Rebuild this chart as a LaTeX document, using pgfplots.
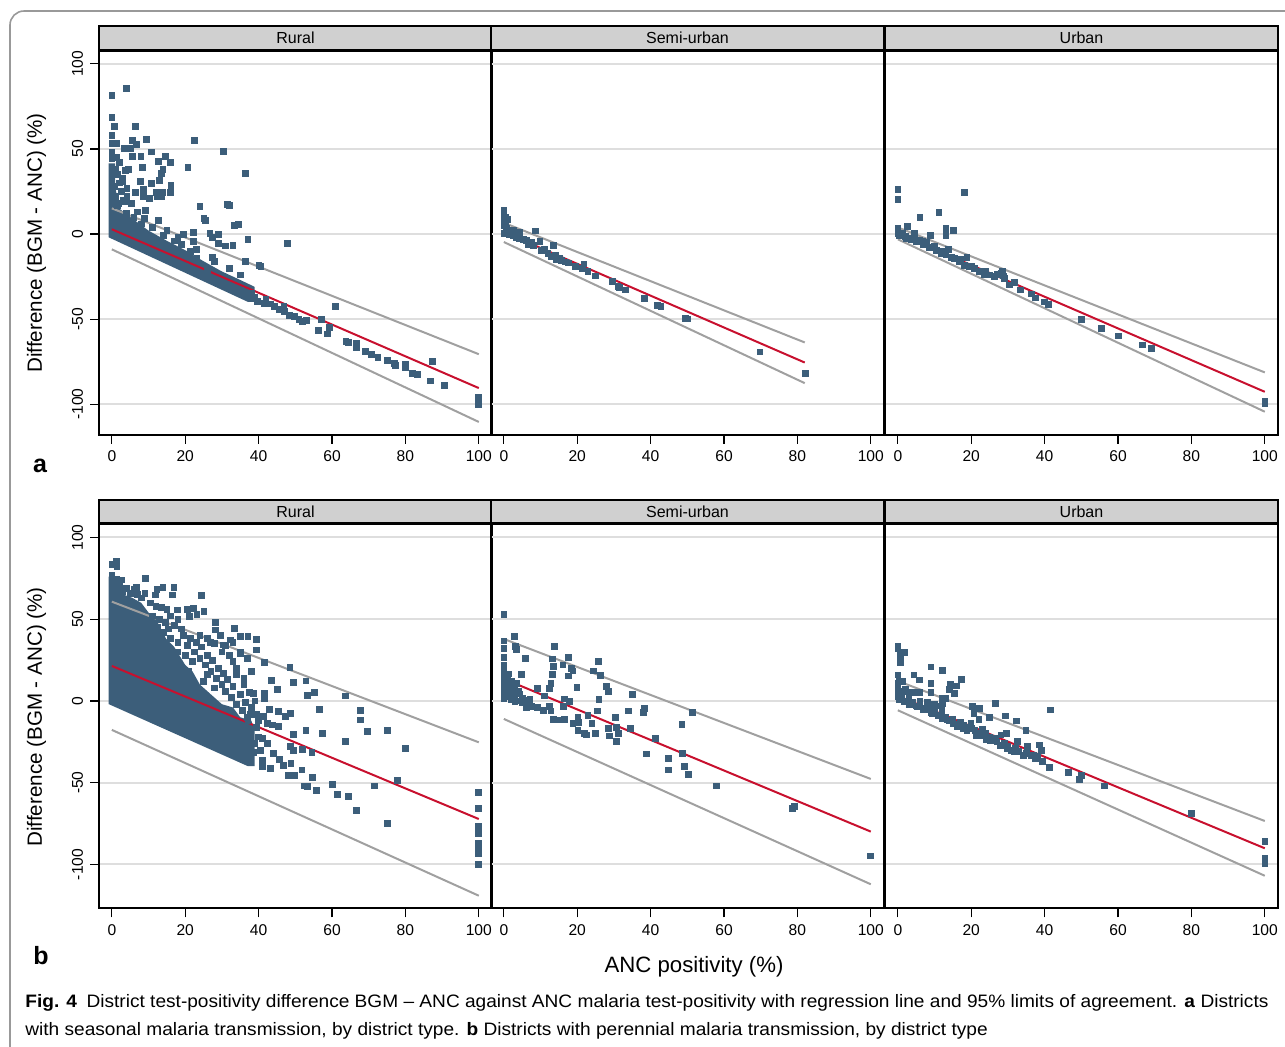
\documentclass[border=0pt]{standalone}
\usepackage{fontspec}
\setmainfont{Liberation Sans}
\usepackage{pgfplots}
\pgfplotsset{compat=1.18}

\definecolor{mk}{RGB}{60,94,122}
\definecolor{rl}{RGB}{200,16,46}
\definecolor{gl}{RGB}{160,160,160}
\definecolor{strip}{RGB}{208,208,208}
\definecolor{gridc}{RGB}{222,222,222}

\pgfplotsset{
  panel/.style={
    scale only axis, width=196.5pt, height=192pt, anchor=north west,
    xmin=-3.5, xmax=103.6,
    axis line style={line width=1pt},
    tick align=outside, tick pos=left,
    xtick={0,20,40,60,80,100}, xticklabels={0,20,40,60,80,100},
    ytick={-100,-50,0,50,100},
    ymajorgrids, grid style={line width=1pt, gridc},
    major tick length=4.5pt,
    tick style={line width=0.6pt, black},
    ticklabel style={font=\fontsize{7.8}{9}\selectfont},
    every axis title shift=0pt,
    title style={at={(0.5,1)}, anchor=south, yshift=0pt, fill=strip, draw=black, line width=1pt,
      minimum width=196.5pt, minimum height=11.7pt, inner sep=0pt,
      font=\fontsize{8}{9}\selectfont},
  },
  lefty/.style={yticklabels={-100,-50,0,50,100}, yticklabel style={rotate=90, anchor=south}},
  noy/.style={yticklabels={}, ytick style={draw=none}},
  pts/.style={only marks, mark=square*, mark size=1.45pt, color=mk},
  band/.style={fill=mk, draw=none},
  reg/.style={rl, line width=1pt},
  loa/.style={gl, line width=1pt},
}

\newsavebox\capA
\sbox\capA{\fontsize{9}{11}\selectfont\textbf{Fig. 4}\enspace District test-positivity difference BGM -- ANC against ANC malaria test-positivity with regression line and 95\% limits of agreement. \textbf{a} Districts}

\begin{document}
\begin{tikzpicture}
\useasboundingbox (0,0) rectangle (642.5pt,-523pt);
\draw[gray!80, line width=0.8pt, rounded corners=7pt] (5pt,-560pt) -- (5pt,-5.5pt) -- (680pt,-5.5pt);

% ---------- row a ----------
\begin{axis}[panel, lefty, at={(49.5pt,-25.35pt)}, ymin=-117.9, ymax=107.7, title={Rural}]
\addplot[band] coordinates {(-0.9,41.5) (0.9,41.5) (0.9,28) (2,15) (5,10) (10,2) (15,-4) (20,-9.5) (25,-16) (30,-22) (35,-27) (38.9,-31) (38.9,-39.9) (37.1,-39.9) (-0.9,-1.9)} -- cycle;
\addplot[pts] coordinates {
(0,81.6) (3.9,85.5) (0,68.5) (0.7,63.4) (6.5,63.4) (0,58.1) (0,53.2) (1.2,53.2) (5.5,55.2) (9.4,55.6) (22.5,55.2)
(3.5,50.3) (5.2,50.3) (6.8,52.8) (10.8,48.3) (30.5,48.7) (0,48.3) (0,44.4) (5.7,45.4) (7.9,45.8) (14.7,45.8)
(12.6,42.5) (15.9,42.1) (8.3,39.1) (20.7,39.1) (3.6,37.6) (4.6,38.2) (13.9,38) (36.5,35.6) (13.5,35.6)
(2.8,30.7) (7.7,30.7) (12.9,31.3) (10.8,29.7) (16.1,28.6) (4.1,26.8) (0.8,27.8) (8.7,26.4) (6.4,24.5)
(12.1,24.5) (13.9,24.5) (16,24.5) (8.7,22.3) (10.2,20.9) (12.3,21.9) (13.4,21.9) (4.1,21.9) (3.5,19)
(1.8,18) (5.3,18) (24,16) (31.4,17.6) (32,16.6) (9.2,13.7) (25.1,9.2) (25.5,8.2) (12.6,8.2) (8.9,9.2)
(33.3,4.9) (34.4,5.7) (26.7,0.4) (29,-0.2) (19.6,-0.2) (22.2,0.8) (27.4,-2) (37.1,-3.1) (47.8,-5.5)
(29,-5.5) (31,-7) (33,-6.7) (22.2,-4.5) (21.4,-10.4) (27.4,-13.7) (23.2,-14.3) (36.3,-16.2) (40.1,-18.2)
(40.6,-19.2) (26,-20.7) (60.9,-42.3) (57,-50.1) (59.3,-54.8) (56.3,-56.4) (58.8,-58.7) (63.8,-63.2)
(64.4,-63.6) (66.6,-64.2) (66.6,-66.7) (69.1,-69.1) (70.8,-70.5) (72.5,-72.4) (75.2,-74.4) (77,-75.9)
(77.2,-77.3) (80,-76.5) (80,-78.5) (81.9,-81.8) (83.2,-82.6) (87.4,-75) (86.8,-86.3) (90.7,-89)
(100,-96.1) (100,-100)
(39.7,-39.7) (41.5,-40.7) (43.1,-41.1) (44.2,-42.7) (45.6,-44.2) (46.9,-42.7) (47.1,-45.6) (48.3,-47.6)
(49.7,-48.5) (51,-50.1) (52,-51.5) (53.1,-50.9) (39,-37) (42,-38.5) (37,-36) (35,-33) (38,-35)
(1.5,35) (2,30) (2.5,25) (1,22) (3,20) (1.5,17) (2.8,33) (1,38) (2,42) (1.2,45)
(6,10) (8,6) (11,4) (14,-1) (17,-4) (19,-6) (23,-9) (28,-16) (32,-20) (35,-24) (15,2) (18,-2) (7,13) (4,12)
};
\addplot[loa] coordinates {(0,15.1) (100,-70.6)};
\addplot[loa] coordinates {(0,-9.0) (100,-110.4)};
\addplot[reg] coordinates {(0,2.8) (100,-90.5)};
\end{axis}

\begin{axis}[panel, noy, at={(245.5pt,-25.35pt)}, ymin=-117.9, ymax=107.7, title={Semi-urban}]
\addplot[pts] coordinates {
(0,14.1) (0,11.1) (0,8.2) (1.1,8.6) (0,5.3) (0.7,3.3) (0,0.4) (4.2,1) (8.7,1.8) (1.6,2.3) (2.5,2) (3.3,0)
(4.3,-2.5) (5.3,-3.1) (6.2,-3.9) (6.6,-5.9) (9.8,-4.5) (10.2,-9.4) (11.1,-9) (12,-11.3) (13.4,-6.5)
(13,-13.3) (14.3,-14.9) (15.2,-14.3) (15.7,-15.6) (16.8,-16.4) (19.5,-18.8) (21.3,-20.1) (21.8,-17.6)
(22.9,-22.1) (24.9,-24.6) (29.5,-28) (31.1,-30.9) (31.5,-31.5) (33.2,-32.8) (38.3,-37.7) (41.9,-41.8)
(42.8,-42.6) (49.5,-49.7) (50,-49.9) (69.8,-69.2) (82.1,-81.7)
(0,12.5) (0.4,10) (0.5,6.5) (1,1) (1.5,-0.5) (2.5,-1) (3.5,-2) (7.5,-5) (8,-6.5) (14,-12.5) (17.5,-17)
};
\addplot[loa] coordinates {(0,6.6) (82,-63.7)};
\addplot[loa] coordinates {(0,-4.7) (82,-87.6)};
\addplot[reg] coordinates {(0,1.2) (82,-75.5)};
\end{axis}

\begin{axis}[panel, noy, at={(442.5pt,-25.35pt)}, ymin=-117.9, ymax=107.7, title={Urban}]
\addplot[pts] coordinates {
(0,26.2) (0,20.3) (18.1,24.6) (11.2,12.7) (6,9.8) (2.7,4.3) (13.1,3.3) (15.1,2.3) (13.1,-0.8) (8.9,-0.6)
(4.5,0.4) (0,3.3) (0,0.4) (0.5,-0.6) (1.4,0.4) (2.3,-2.5) (3.6,-3.5) (5,-4.5) (5.9,-3.5) (6.8,-4.5)
(7.7,-5.1) (8.6,-7.8) (10,-7.4) (10.4,-9.4) (11.8,-11.3) (13.1,-12.3) (13.8,-9) (14.5,-13.7) (15.4,-14.3)
(16.8,-16.2) (18.1,-18.2) (18.8,-13.7) (19.5,-19.2) (20.9,-20.1) (22.2,-22.1) (23.6,-23.5) (26.3,-25)
(27.2,-23.5) (28.1,-23.1) (28.7,-24.6) (30.4,-29.9) (31.7,-28.5) (33.3,-32.8) (36.5,-35.2) (37.4,-37.5)
(39.9,-39.9) (41.1,-41.3) (50,-50) (55.5,-55.3) (60,-59.8) (66.6,-65.1) (69,-67.1) (100,-98.3) (100,-99.7)
(1,-1) (2,-1.5) (3,-2.5) (4,-3) (7,-6) (9,-8) (12,-10) (17,-15) (20,-19) (24,-22) (25,-24) (28.5,-22) (29,-26)
};
\addplot[loa] coordinates {(0,3.9) (100,-81.3)};
\addplot[loa] coordinates {(0,-3.1) (100,-104.4)};
\addplot[reg] coordinates {(0,0.4) (100,-92.7)};
\end{axis}

% ---------- row b ----------
\begin{axis}[panel, lefty, at={(49.5pt,-262.15pt)}, ymin=-126.8, ymax=108, title={Rural}]
\addplot[band] coordinates {(-0.9,76) (1.5,76) (2,66) (5.6,63) (8,60) (10,54) (12,50) (14.8,38) (17,33) (20,22) (22,18) (24,10) (28,2) (30,-2) (33,-4) (35,-10) (38,-12) (38.9,-18) (38.9,-39.9) (37.1,-39.9) (-0.9,-1.9)} -- cycle;
\addplot[pts] coordinates {
(0,83.3) (1.2,85.3) (1.4,82.2) (0,77.1) (1.4,74.5) (0,69) (9.1,74.7) (6.8,69.4) (12.3,68) (13.9,69.6)
(16.9,69.6) (16.4,64.9) (11.9,64.9) (24.4,64.7) (25.1,54.7) (22.2,56.7) (20.5,56.1) (17.8,55.7) (21.2,51.6)
(23.2,52.7) (28.3,48.2) (28.3,43.5) (33.3,44.5) (29.6,40) (35.1,39.4) (37.1,39.4) (39.5,37.8) (39.5,31.2)
(32.2,37.3) (26.9,35.7) (30.5,34.3) (35.1,29.2) (41.5,23.5) (48.5,20.6) (43.5,12.4) (49.4,11.4) (52.9,12.2)
(53.2,3.3) (55.3,5.3) (56.5,-5.1) (63.6,3.1) (67.7,-5.9) (67.7,-11.6) (69.7,-18.4) (75,-17.8) (79.9,-29)
(63.6,-24.5) (57.4,-19.8) (52.9,-17.8) (49.4,-20.4) (47.4,-9.6) (48.6,-7.6) (45.3,-6.5) (45.4,-15.7)
(41.3,-9.6) (43,-5.1) (45.1,7.1) (38.5,4.7) (41.5,4.7) (41.5,1.6) (37.8,-8) (37.1,-12.2) (42.4,-13.7)
(43.8,-14.7) (41,-22.9) (42.4,-25.9) (44,-32) (41,-40.2) (43.1,-41.2) (45.6,-35.7) (46.8,-39.2) (48.8,-38.2)
(49.5,-30) (48.6,-27.6) (48.1,-45.3) (49.9,-45.7) (51.8,-42.2) (52.4,-52) (53.3,-52.4) (54.7,-46.7)
(55.8,-54.9) (54.5,-31.6) (51.9,-29.6) (60,-51) (61.4,-56.9) (64.5,-58.2) (66.6,-66.7) (71.6,-52)
(77.8,-48.8) (75,-74.9) (100,-55.9) (100,-65.9) (100,-76.5) (100,-81) (100,-87.1) (100,-91.2) (100,-93.3)
(100,-100) (37.6,-35.7) (38.7,-31.6) (37.4,-28) (36.5,-23.9)
(1,72) (2,70) (3,67) (4,69) (5,66) (6,68) (7,65) (8,63) (9,66) (2.5,74) (0.5,70) (1.5,68)
(10.5,60) (12,58) (13.5,57) (15,56) (11,52) (13,50) (14.5,48) (16,52) (12.5,45) (14,42) (15.5,44) (17,46)
(18,50) (19,44) (16,38) (18,36) (19.5,40) (20.5,34) (21.5,38) (22.5,30) (23,36) (24,26) (24.5,33) (25.5,22)
(26,28) (27,18) (27.5,25) (28.5,14) (29,20) (30,10) (30.5,17) (31,6) (31.5,13) (32.5,2) (33,9) (34,-2)
(34,16) (35,4) (35.5,-6) (36,10) (36.5,-1) (37,-10) (37.5,5) (38,-4) (39,0) (39.5,-8) (39.5,-16) (40,-22)
(40.5,-30) (41,-36) (39,-26) (40,-12) (20,28) (22,24) (18,30) (26,16) (28,8) (25,12) (21,18)
(31,34) (33,36) (35,30) (37,26) (38,18) (36,14) (33,24) (34,20) (32,28) (30,30) (26,38) (24,40) (28,35)
};
\addplot[loa] coordinates {(0,60.7) (100,-25.3)};
\addplot[loa] coordinates {(0,-17.7) (100,-119.1)};
\addplot[reg] coordinates {(0,21.4) (100,-72.2)};
\end{axis}

\begin{axis}[panel, noy, at={(245.5pt,-262.15pt)}, ymin=-126.8, ymax=108, title={Semi-urban}]
\addplot[pts] coordinates {
(0,52.7) (2.8,39.4) (0,36.7) (0,32.2) (3.2,33.3) (3.4,31.6) (0,26.7) (0,21.8) (0,15.9) (1.4,16.5) (0,11.8)
(0,8.8) (0,5.7) (0,1.6) (1.2,10.8) (2.1,7.8) (2.5,4.7) (3.4,10.8) (4.2,4.3) (5.1,1.6) (6.2,0.6) (7.1,1)
(2.1,0.6) (3,-0.4) (5.8,26.1) (4.7,16.3)
(6.2,-4.1) (7.5,-3.5) (9.1,7.8) (9.1,-3.9) (10.7,-5.9) (11,3.1) (12.5,7.8) (12.8,10.8) (12.5,-3.1)
(12.8,-6.1) (13.4,-11.2) (15.2,-11.6) (16.6,-11.2) (16.3,-3.5) (16.4,1.2) (17.9,-0.2) (13.2,16.3) (13.4,21)
(13.2,25.7) (13.7,33.3) (16.1,22) (17.5,26.7) (17.5,15.3) (18.4,20) (18.8,18.4) (19.9,8.4) (18.8,-13.7)
(20.2,-10.2) (20.4,-13.3) (20.2,-17.8) (22,-19.8) (22.5,-20.8) (24,-13.7) (25,-19.8) (22.9,-8.6)
(24.5,18.4) (25.6,-6.1) (25.9,1) (25.8,24.3) (26.3,15.7) (27.9,8.8) (28.6,5.9) (28.6,-16.7) (28.8,-21.4)
(30.4,-10) (30.6,-16.3) (31.3,-19.8) (30.6,-24.9) (33.9,-6.1) (34.4,-16.7) (35,4.1) (38.3,-4.5) (38,-6.9)
(41.2,-22.9) (38.9,-32.4) (44.9,-35.1) (44.9,-42.2) (48.5,-14.3) (48.7,-32) (49.3,-39.8) (50.4,-44.9)
(51.3,-6.9) (57.9,-52) (78.6,-65.7) (79.2,-64.3) (99.9,-94.7)
(0,13) (0.5,10) (1,6) (1.5,3) (2,2) (3,1) (4,0) (5,-1) (6,-2) (2,12) (3,8) (4,6) (0,18) (0,4) (1,14)
};
\addplot[loa] coordinates {(0,37.9) (100,-47.7)};
\addplot[loa] coordinates {(0,-11.0) (100,-112.1)};
\addplot[reg] coordinates {(0,13.5) (100,-79.9)};
\end{axis}

\begin{axis}[panel, noy, at={(442.5pt,-262.15pt)}, ymin=-126.8, ymax=108, title={Urban}]
\addplot[pts] coordinates {
(0,33.3) (0,32.2) (1.8,29.8) (0.6,27.8) (0.8,23.7) (9,20.8) (12.2,18.8) (4.4,15.9) (5.9,12.9) (9,10.8)
(17.4,13.3) (14.3,10.2) (14,7.1) (16,9.2) (15.5,4.7) (0,15.9) (0,10.8) (0,6.7) (0,2.7) (1.4,11.8) (1.2,5.7)
(5.9,5.3) (9,5.3) (12.2,1.6) (13.1,1.6) (12.2,-1.4)
(0.5,0.6) (1.8,-0.4) (3.2,-1.4) (4.1,-2.4) (5.4,-3.1) (6.8,-4.5) (8.2,-5.5) (9.5,-7.6) (10.9,-8.6)
(12.2,-10.6) (13.6,-11.6) (15,-13.7) (16.3,-15.7) (17.7,-16.7) (18.8,-17.8) (20.4,-3.5) (22.2,-4.5)
(20.7,-7.6) (22.1,-11.2) (24.9,-10) (26.6,-1.4) (29.3,-9.2) (32.4,-12.2) (34.9,-18.2) (19.9,-13.7)
(21.3,-21.4) (23.1,-17.3) (24,-23.5) (25.2,-24.3) (26.6,-22.9) (28.1,-20.8) (27.8,-26.9) (29.5,-19.8)
(29.9,-29) (30.8,-30) (31.7,-31) (32.6,-24.9) (34.2,-33.5) (35.4,-28) (36.3,-33.1) (37.4,-35.1) (38.5,-26.9)
(39.2,-30) (39.4,-37.1) (41.4,-40.8) (41.5,-5.5) (46.5,-43.5) (49.4,-48) (50,-45.3) (56.3,-52) (80,-68.8)
(100,-86.1) (100,-96.3) (100,-99.4)
(0.5,3) (1,1) (2,0) (3,-2) (4,-1) (5,-3) (6,-2) (7,-5) (8,-4) (9,-7) (10,-6) (11,-9) (12,-8) (13,-10)
(14,-12) (15,-11) (16,-14) (17,-13) (18,-15) (19,-16) (0,8) (0.5,12) (1,4) (2,7) (3,3) (4,5) (6,0) (8,-1)
(10,-2) (11,-3) (12,-5) (20,-17) (21,-18) (22,-20) (23,-21) (24,-20) (25,-22) (26,-24) (27,-25) (28,-27)
(29,-26) (30,-28) (32,-29) (33,-31) (35,-32) (37,-33) (38,-34)
};
\addplot[loa] coordinates {(0,12.2) (100,-73.4)};
\addplot[loa] coordinates {(0,-5.7) (100,-106.9)};
\addplot[reg] coordinates {(0,3.1) (100,-90.1)};
\end{axis}

% ---------- labels ----------
\node[rotate=90, font=\fontsize{10.3}{12}\selectfont] at (18.3pt,-121.5pt) {Difference (BGM - ANC) (\%)};
\node[rotate=90, font=\fontsize{10.3}{12}\selectfont] at (18.3pt,-358.5pt) {Difference (BGM - ANC) (\%)};
\node[font=\fontsize{12.5}{14}\bfseries] at (20pt,-233pt) {a};
\node[font=\fontsize{12.5}{14}\bfseries] at (20.5pt,-478pt) {b};
\node[font=\fontsize{11.1}{13}\selectfont] at (347pt,-483.5pt) {ANC positivity (\%)};
\pgfmathsetmacro\capf{621.5/\the\wd\capA}
\node[anchor=base west, inner sep=0pt] at (12.5pt,-503.5pt) {\scalebox{\capf}[1]{\usebox\capA}};
\node[anchor=base west, inner sep=0pt] at (12.5pt,-517.5pt) {\scalebox{\capf}[1]{\fontsize{9}{11}\selectfont with seasonal malaria transmission, by district type. \textbf{b} Districts with perennial malaria transmission, by district type}};
\end{tikzpicture}
\end{document}
